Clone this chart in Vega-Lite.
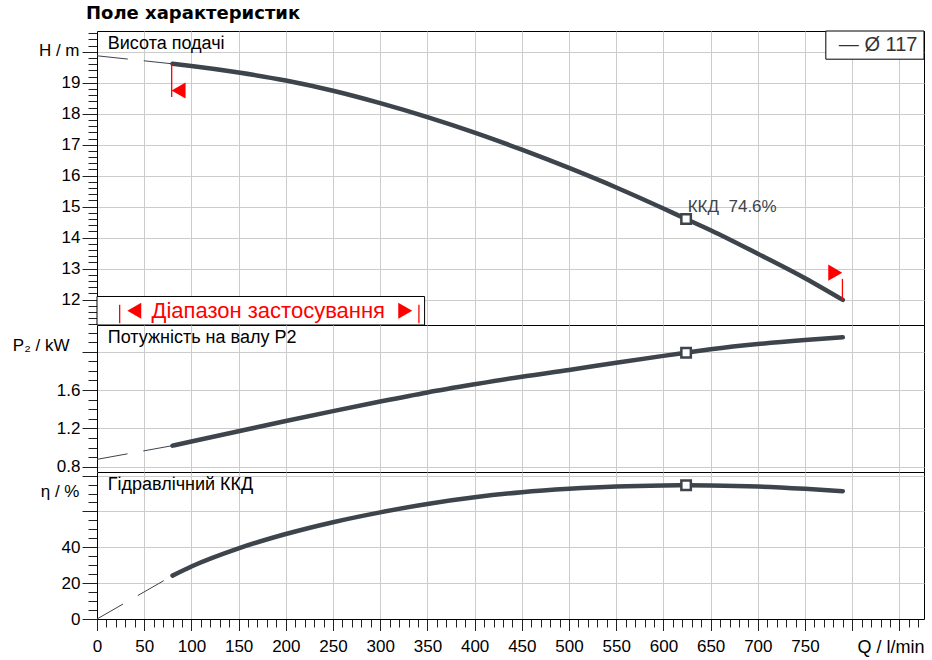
{
  "$schema": "https://vega.github.io/schema/vega-lite/v6.json",
  "background": "white",
  "padding": {"left": 11, "top": 4, "right": 5, "bottom": 3},
  "title": {
    "text": "Поле характеристик",
    "font": "DejaVu Sans",
    "fontSize": 18,
    "fontWeight": "bold",
    "color": "black",
    "anchor": "start",
    "frame": "group",
    "dx": -11,
    "offset": 1
  },
  "config": {
    "view": {"stroke": "black", "strokeWidth": 1},
    "axis": {
      "labelFont": "Liberation Sans",
      "labelFontSize": 17,
      "labelColor": "black",
      "titleFont": "Liberation Sans",
      "titleFontSize": 17,
      "titleFontWeight": "normal",
      "titleColor": "black",
      "domainColor": "black",
      "tickColor": "#222222",
      "gridColor": "#cccccc",
      "gridWidth": 1,
      "labelOverlap": false,
      "labelFlush": false
    },
    "text": {"font": "Liberation Sans"}
  },
  "datasets": {
    "curve": [
      {"Q": 80, "H": 19.61, "P2": 1.02, "eta": 24.2},
      {"Q": 100, "H": 19.54, "P2": 1.063, "eta": 29.3},
      {"Q": 150, "H": 19.33, "P2": 1.17, "eta": 39.4},
      {"Q": 200, "H": 19.07, "P2": 1.277, "eta": 47.4},
      {"Q": 250, "H": 18.74, "P2": 1.38, "eta": 54.0},
      {"Q": 300, "H": 18.34, "P2": 1.48, "eta": 59.5},
      {"Q": 350, "H": 17.89, "P2": 1.575, "eta": 64.2},
      {"Q": 400, "H": 17.39, "P2": 1.66, "eta": 67.9},
      {"Q": 450, "H": 16.84, "P2": 1.74, "eta": 70.7},
      {"Q": 500, "H": 16.25, "P2": 1.81, "eta": 72.6},
      {"Q": 550, "H": 15.62, "P2": 1.885, "eta": 73.9},
      {"Q": 600, "H": 14.94, "P2": 1.957, "eta": 74.5},
      {"Q": 624, "H": 14.6, "P2": 1.99, "eta": 74.6},
      {"Q": 650, "H": 14.24, "P2": 2.025, "eta": 74.5},
      {"Q": 700, "H": 13.48, "P2": 2.08, "eta": 73.9},
      {"Q": 750, "H": 12.69, "P2": 2.122, "eta": 72.6},
      {"Q": 790, "H": 11.99, "P2": 2.15, "eta": 71.3}
    ],
    "ext": [
      {"Q": 0, "H": 19.87, "P2": 0.877, "eta": 0},
      {"Q": 80, "H": 19.61, "P2": 1.02, "eta": 24.2}
    ],
    "bep": [
      {"Q": 624, "H": 14.6, "P2": 1.99, "eta": 74.6}
    ]
  },
  "spacing": 0,
  "bounds": "flush",
  "vconcat": [
    {
      "width": 827,
      "height": 294,
      "encoding": {
        "x": {
          "field": "Q",
          "type": "quantitative",
          "scale": {"domain": [0, 876], "nice": false, "zero": false},
          "axis": {
            "values": [0, 50, 100, 150, 200, 250, 300, 350, 400, 450, 500, 550, 600, 650, 700, 750, 800, 850],
            "grid": true,
            "labels": false,
            "ticks": false,
            "domain": false,
            "title": null
          }
        },
        "y": {
          "field": "H",
          "type": "quantitative",
          "scale": {"domain": [11.18, 20.67], "nice": false, "zero": false},
          "axis": {
            "values": [11.2, 11.4, 11.6, 11.8, 12, 12.2, 12.4, 12.6, 12.8, 13, 13.2, 13.4, 13.6, 13.8, 14, 14.2, 14.4, 14.6, 14.8, 15, 15.2, 15.4, 15.6, 15.8, 16, 16.2, 16.4, 16.6, 16.8, 17, 17.2, 17.4, 17.6, 17.8, 18, 18.2, 18.4, 18.6, 18.8, 19, 19.2, 19.4, 19.6, 19.8, 20, 20.2, 20.4, 20.6],
            "grid": true,
            "gridOpacity": {"condition": {"test": "datum.value % 1 == 0", "value": 1}, "value": 0},
            "tickSize": {"condition": {"test": "datum.value % 1 == 0", "value": 15}, "value": 9},
            "labelPadding": 2,
            "labelExpr": "datum.value % 1 == 0 && datum.value < 20 ? format(datum.value, 'd') : ''",
            "title": "H / m",
            "titleAngle": 0,
            "titleAlign": "right",
            "titleBaseline": "middle",
            "titleX": -18,
            "titleY": 19
          }
        }
      },
      "layer": [
        {
          "data": {"name": "ext"},
          "mark": {"type": "line", "color": "#3d444b", "strokeWidth": 1, "strokeDash": [31, 16]}
        },
        {
          "data": {"name": "curve"},
          "mark": {"type": "line", "color": "#3d444b", "strokeWidth": 4.5, "strokeCap": "round", "interpolate": "monotone"}
        },
        {
          "data": {"values": [{"Q": 0, "Q2": 347, "H": 11.18, "H2": 12.1}]},
          "mark": {"type": "rect", "fill": "white", "stroke": "black", "strokeWidth": 1},
          "encoding": {
            "x2": {"field": "Q2"},
            "y2": {"field": "H2"}
          }
        },
        {
          "data": {"values": [
            {"Q": 24, "H": 11.24, "H2": 11.83},
            {"Q": 341, "H": 11.24, "H2": 11.83},
            {"Q": 79.1, "H": 18.54, "H2": 19.61},
            {"Q": 789.6, "H": 11.99, "H2": 12.67}
          ]},
          "mark": {"type": "rule", "color": "#ff0000", "strokeWidth": 1.3},
          "encoding": {"y2": {"field": "H2"}}
        },
        {
          "data": {"values": [{"Q": 39.5, "H": 11.64}, {"Q": 86.4, "H": 18.75}]},
          "mark": {"type": "point", "shape": "triangle-left", "filled": true, "color": "#ff0000", "opacity": 1, "size": 260}
        },
        {
          "data": {"values": [{"Q": 326.5, "H": 11.64}, {"Q": 782, "H": 12.87}]},
          "mark": {"type": "point", "shape": "triangle-right", "filled": true, "color": "#ff0000", "opacity": 1, "size": 260}
        },
        {
          "data": {"values": [{"Q": 181.4, "H": 11.62, "label": "Діапазон застосування"}]},
          "mark": {"type": "text", "align": "center", "baseline": "middle", "fontSize": 22, "color": "#ff0000"},
          "encoding": {"text": {"field": "label"}}
        },
        {
          "data": {"values": [{"Q": 772, "Q2": 876, "H": 19.76, "H2": 20.67}]},
          "mark": {"type": "rect", "fill": "white", "stroke": "black", "strokeWidth": 1},
          "encoding": {
            "x2": {"field": "Q2"},
            "y2": {"field": "H2"}
          }
        },
        {
          "data": {"values": [{"Q": 869, "H": 20.22, "label": "— Ø 117"}]},
          "mark": {"type": "text", "align": "right", "baseline": "middle", "fontSize": 20, "color": "#333333"},
          "encoding": {"text": {"field": "label"}}
        },
        {
          "data": {"name": "bep"},
          "mark": {"type": "point", "shape": "square", "filled": false, "fill": "white", "stroke": "#3d444b", "strokeWidth": 2.5, "opacity": 1, "size": 90}
        },
        {
          "data": {"values": [{"Q": 625.7, "H": 14.99, "label": "ККД\u00a0\u00a074.6%"}]},
          "mark": {"type": "text", "align": "left", "baseline": "middle", "fontSize": 17, "color": "#3d444b"},
          "encoding": {"text": {"field": "label"}}
        },
        {
          "data": {"values": [{"Q": 11.4, "H": 20.25, "label": "Висота подачі"}]},
          "mark": {"type": "text", "align": "left", "baseline": "middle", "fontSize": 18, "color": "black"},
          "encoding": {"text": {"field": "label"}}
        }
      ]
    },
    {
      "width": 827,
      "height": 147,
      "encoding": {
        "x": {
          "field": "Q",
          "type": "quantitative",
          "scale": {"domain": [0, 876], "nice": false, "zero": false},
          "axis": {
            "values": [0, 50, 100, 150, 200, 250, 300, 350, 400, 450, 500, 550, 600, 650, 700, 750, 800, 850],
            "grid": true,
            "labels": false,
            "ticks": false,
            "domain": false,
            "title": null
          }
        },
        "y": {
          "field": "P2",
          "type": "quantitative",
          "scale": {"domain": [0.745, 2.279], "nice": false, "zero": false},
          "axis": {
            "values": [0.8, 0.9, 1, 1.1, 1.2, 1.3, 1.4, 1.5, 1.6, 1.7, 1.8, 1.9, 2, 2.1, 2.2],
            "grid": true,
            "gridOpacity": {"condition": {"test": "round(datum.value * 10) % 4 == 0", "value": 1}, "value": 0},
            "tickSize": {"condition": {"test": "round(datum.value * 10) % 4 == 0", "value": 15}, "value": 9},
            "labelPadding": 2,
            "labelExpr": "round(datum.value * 10) % 4 == 0 && datum.value < 1.9 ? format(datum.value, '.1f') : ''",
            "title": "P₂ / kW",
            "titleAngle": 0,
            "titleAlign": "right",
            "titleBaseline": "middle",
            "titleX": -28,
            "titleY": 20
          }
        }
      },
      "layer": [
        {
          "data": {"name": "ext"},
          "mark": {"type": "line", "color": "#3d444b", "strokeWidth": 1, "strokeDash": [31, 16]}
        },
        {
          "data": {"name": "curve"},
          "mark": {"type": "line", "color": "#3d444b", "strokeWidth": 4.5, "strokeCap": "round", "interpolate": "monotone"}
        },
        {
          "data": {"name": "bep"},
          "mark": {"type": "point", "shape": "square", "filled": false, "fill": "white", "stroke": "#3d444b", "strokeWidth": 2.5, "opacity": 1, "size": 90}
        },
        {
          "data": {"values": [{"Q": 11.4, "P2": 2.143, "label": "Потужність на валу P2"}]},
          "mark": {"type": "text", "align": "left", "baseline": "middle", "fontSize": 18, "color": "black"},
          "encoding": {"text": {"field": "label"}}
        }
      ]
    },
    {
      "width": 827,
      "height": 147,
      "encoding": {
        "x": {
          "field": "Q",
          "type": "quantitative",
          "scale": {"domain": [0, 876], "nice": false, "zero": false},
          "axis": {
            "values": [0, 10, 20, 30, 40, 50, 60, 70, 80, 90, 100, 110, 120, 130, 140, 150, 160, 170, 180, 190, 200, 210, 220, 230, 240, 250, 260, 270, 280, 290, 300, 310, 320, 330, 340, 350, 360, 370, 380, 390, 400, 410, 420, 430, 440, 450, 460, 470, 480, 490, 500, 510, 520, 530, 540, 550, 560, 570, 580, 590, 600, 610, 620, 630, 640, 650, 660, 670, 680, 690, 700, 710, 720, 730, 740, 750, 760, 770, 780, 790, 800, 810, 820, 830, 840, 850, 860, 870],
            "grid": true,
            "gridOpacity": {"condition": {"test": "datum.value % 50 == 0", "value": 1}, "value": 0},
            "tickSize": {"condition": {"test": "datum.value % 50 == 0", "value": 11.5}, "value": 8},
            "labelPadding": 8,
            "labelExpr": "datum.value % 50 == 0 && datum.value <= 750 ? datum.label : ''",
            "title": "Q / l/min",
            "titleFontSize": 18,
            "titleX": 827,
            "titleY": 19,
            "titleAlign": "right",
            "titleBaseline": "top"
          }
        },
        "y": {
          "field": "eta",
          "type": "quantitative",
          "scale": {"domain": [0, 82], "nice": false, "zero": false},
          "axis": {
            "values": [0, 5, 10, 15, 20, 25, 30, 35, 40, 45, 50, 55, 60, 65, 70, 75, 80],
            "grid": true,
            "gridOpacity": {"condition": {"test": "datum.value % 20 == 0", "value": 1}, "value": 0},
            "tickSize": {"condition": {"test": "datum.value % 20 == 0", "value": 15}, "value": 9},
            "labelPadding": 2,
            "labelExpr": "datum.value % 20 == 0 && datum.value <= 40 ? datum.label : ''",
            "title": "η / %",
            "titleAngle": 0,
            "titleAlign": "right",
            "titleBaseline": "middle",
            "titleX": -18,
            "titleY": 19
          }
        }
      },
      "layer": [
        {
          "data": {"name": "ext"},
          "mark": {"type": "line", "color": "#3d444b", "strokeWidth": 1, "strokeDash": [30, 17]}
        },
        {
          "data": {"name": "curve"},
          "mark": {"type": "line", "color": "#3d444b", "strokeWidth": 4.5, "strokeCap": "round", "interpolate": "monotone"}
        },
        {
          "data": {"name": "bep"},
          "mark": {"type": "point", "shape": "square", "filled": false, "fill": "white", "stroke": "#3d444b", "strokeWidth": 2.5, "opacity": 1, "size": 90}
        },
        {
          "data": {"values": [{"Q": 11.4, "eta": 74.8, "label": "Гідравлічний ККД"}]},
          "mark": {"type": "text", "align": "left", "baseline": "middle", "fontSize": 18, "color": "black"},
          "encoding": {"text": {"field": "label"}}
        }
      ]
    }
  ]
}
